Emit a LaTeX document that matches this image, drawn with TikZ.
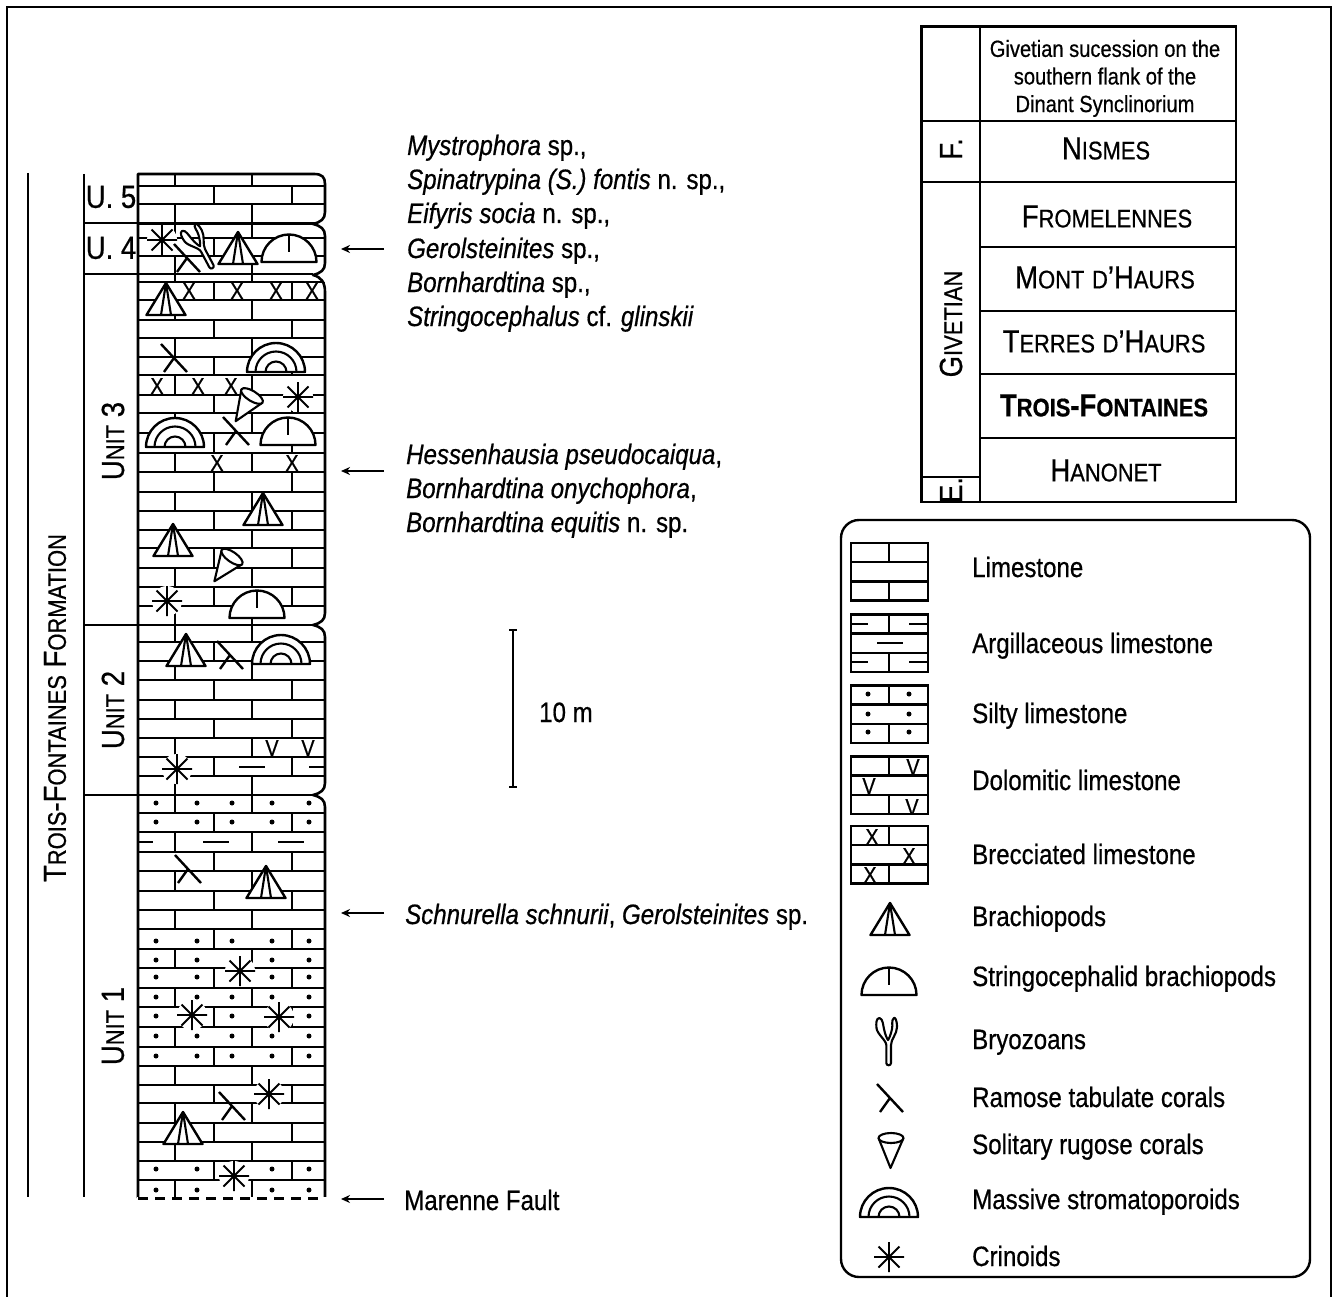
\documentclass[tikz,border=0pt]{standalone}
\usepackage{fontspec}
\setmainfont[FakeStretch=0.86,FakeBold=0.6]{Liberation Sans}
\usetikzlibrary{arrows.meta}
\newcommand{\fs}[1]{\fontsize{#1}{#1}\selectfont}
\newcommand{\smc}[1]{{\fontsize{25.5}{26}\selectfont #1}}
\tikzset{
  x=1pt,y=-1pt,
  line cap=round,
  frameline/.style={line width=2.1pt},
  brick/.style={line width=2.4pt,line cap=butt},
  sym/.style={line width=2.4pt,line join=round},
  symthin/.style={line width=2.1pt,line join=round},
  txt/.style={inner sep=0pt,anchor=base west,font=\fs{28}},
  capt/.style={inner sep=0pt,anchor=center,font=\fs{32}},
  rot/.style={inner sep=0pt,anchor=center,rotate=90,font=\fs{32}},
  mark letter/.style={inner sep=0pt,anchor=center,font=\fs{23}},
  pointer/.style={line width=2.4pt,-{Stealth[length=9pt,width=8pt]}},
  brachio/.pic={
    \draw[sym,fill=white] (0,0)--(-19.5,32)--(19.5,32)--cycle;
    \draw[symthin] (0,0)--(-5,32) (0,0)--(5,32);
  },
  stringo/.pic={
    \draw[sym,fill=white] (-27.5,0) arc[start angle=180,end angle=360,radius=27.5] --cycle;
    \draw[symthin] (0,-27)--(0,-10);
  },
  bryo/.pic={
    \draw[symthin,fill=white] (-1.7,21) .. controls (-1.7,24) and (3,24) .. (3,21) -- (3,3)
      .. controls (3,-3) and (9,-8) .. (9,-15) .. controls (9,-22) and (7,-25) .. (6,-24)
      .. controls (3,-22) and (5,-17) .. (4,-13) .. controls (3,-8) and (1,-3) .. (0,-2)
      .. controls (-1,-3) and (-3,-8) .. (-4,-13) .. controls (-5,-17) and (-5,-23) .. (-8.5,-24)
      .. controls (-12,-24) and (-12,-18) .. (-11.5,-14) .. controls (-11,-8) and (-2,-2) .. (-1.7,3) -- cycle;
  },
  ramose/.pic={
    \draw[sym] (-13,-14)--(13,14) (0,0)--(-10,14);
  },
  solit/.pic={
    \draw[symthin,fill=white] (-12.5,0)--(-0.5,30)--(12.5,0);
    \draw[symthin,fill=white] (0,0) ellipse[x radius=12.5,y radius=5];
  },
  massive/.pic={
    \draw[sym,fill=white] (-29,0) arc[start angle=180,end angle=360,radius=29] --cycle;
    \draw[symthin] (-20.5,0) arc[start angle=180,end angle=360,radius=20.5];
    \draw[symthin] (-10.5,0) arc[start angle=180,end angle=360,radius=10.5];
  },
  crinoid/.pic={
    \fill[white] (0,0) circle[radius=15];
    \draw[line width=1.9pt] (-15,0)--(15,0) (0,-15)--(0,15) (-10.5,-10.5)--(10.5,10.5) (-10.5,10.5)--(10.5,-10.5);
    \fill (0,0) circle[radius=2.6];
  },
  legbox/.pic={
    \draw[brick] (0,0) rectangle (77,57.5);
    \draw[brick] (0,19)--(77,19) (0,38.5)--(77,38.5) (38,0)--(38,19) (38,38.5)--(38,57.5);
  }
}
\begin{document}
\begin{tikzpicture}
\useasboundingbox (0,0) rectangle (1332,1297);
\fill[white] (0,0) rectangle (1332,1297);
% frame
\draw[frameline,line cap=butt] (7,1297)--(7,7)--(1331,7)--(1331,1297);

% ---- stratigraphic column: bricks
\foreach \yy in {186,204,223,238,256,282,300,320,338,357,375,395,413,433,453,472,492,511,530,548,568,587,606,642,661,680,700,719,738,757,776,813,832,852,871,891,910,929,949,968,988,1007,1027,1047,1066,1085,1103,1123,1142,1161,1180}
  \draw[brick] (138,\yy)--(325,\yy);
\foreach \ta/\tb in {174/186,204/223,223/238,256/282,300/320,338/357,375/395,413/433,453/472,492/511,530/548,568/587,606/625,625/642,661/680,700/719,738/757,776/795,795/813,832/852,871/891,910/929,949/968,988/1007,1027/1047,1066/1085,1103/1123,1142/1161,1180/1198}
  \draw[brick] (175,\ta)--(175,\tb) (252,\ta)--(252,\tb);
\foreach \ta/\tb in {186/204,238/256,282/300,320/338,357/375,395/413,433/453,472/492,511/530,548/568,587/606,642/661,680/700,719/738,757/776,813/832,852/871,891/910,929/949,968/988,1007/1027,1047/1066,1085/1103,1123/1142,1161/1180}
  \draw[brick] (214,\ta)--(214,\tb) (292,\ta)--(292,\tb);

% silty dots
\foreach \yy in {803,822,941,997,1036,1056}
  \foreach \xx in {156,197,232,272,309}
    \fill (\xx,\yy) circle[radius=2.5];
\foreach \xx in {156,197,272,309} {
  \fill (\xx,960) circle[radius=2.5];
  \fill (\xx,977) circle[radius=2.5];
  \fill (\xx,1169) circle[radius=2.5];
  \fill (\xx,1190) circle[radius=2.5];
}
\foreach \xx in {156,232,309} \fill (\xx,1016) circle[radius=2.5];
% argillaceous dashes
\foreach \xa/\xb/\yy in {138/153/842,203/229/842,278/304/842,239/265/767,309/324/767}
  \draw[brick] (\xa,\yy)--(\xb,\yy);

% notches and outline
\foreach \yy in {224,275,625,795}
  \fill[white] (327,\yy-12) .. controls (326,\yy-6) and (320,\yy-2) .. (313,\yy)
     .. controls (320,\yy+2) and (326,\yy+6) .. (327,\yy+12) -- cycle;
\draw[line width=2.6pt,line join=round] (138,1198)--(138,174)--(314,174)
  .. controls (322,174) and (325,177) .. (325,184) -- (325,212)
  .. controls (325,219) and (321,222) .. (313,224) .. controls (321,226) and (325,229) .. (325,236)
  -- (325,263) .. controls (325,270) and (321,273) .. (313,275) .. controls (321,277) and (325,282) .. (325,292)
  -- (325,613) .. controls (325,620) and (321,623) .. (313,625) .. controls (321,627) and (325,630) .. (325,637)
  -- (325,783) .. controls (325,790) and (321,793) .. (313,795) .. controls (321,797) and (325,800) .. (325,807)
  -- (325,1198);
\fill[white] (137,1196.5) rectangle (327,1200);
\draw[line width=3pt,dash pattern=on 10pt off 7pt,line cap=butt] (138,1198)--(325,1198);

% unit column
\draw[frameline] (28,173)--(28,1197);
\draw[frameline] (84,174)--(84,1197);
\draw[brick] (84,223)--(138,223);
\draw[brick] (84,274)--(313,274);
\draw[brick] (84,625)--(313,625);
\draw[brick] (84,795)--(313,795);
\draw[brick] (138,224)--(313,224);
\node[capt] (u5) at (111,197) {U. 5};
\node[capt] (u4) at (111,248) {U. 4};
\node[rot] (unit3) at (113,441) {U\smc{NIT} 3};
\node[rot] (unit2) at (113,710) {U\smc{NIT} 2};
\node[rot] (unit1) at (113,1026) {U\smc{NIT} 1};
\node[rot] (formation) at (55,708) {T\smc{ROIS}-F\smc{ONTAINES} F\smc{ORMATION}};

% X and V marks in the column
\foreach \n/\xx/\yy in {a/189/291,b/237/291,c/276/291,d/312/291,e/157/386,f/198/386,g/231/386,h/217/463,i/292/463}
  \node[mark letter] (x\n) at (\xx,\yy) {X};
\node[mark letter] (va) at (272,748) {V};
\node[mark letter] (vb) at (308,748) {V};

% fossils in the column
\pic at (162,240) {crinoid};
\pic at (187,258) {ramose};
\pic[rotate=28] at (201,248) {bryo};
\pic at (238,232) {brachio};
\pic at (289,262) {stringo};
\pic at (166,283) {brachio};
\pic at (174,358) {ramose};
\pic at (276,372) {massive};
\pic at (298,397) {crinoid};
\pic[rotate=-32] at (252,396) {solit};
\pic at (175,447) {massive};
\pic at (236,431) {ramose};
\pic at (288,445) {stringo};
\pic at (263,493) {brachio};
\pic at (173,524) {brachio};
\pic[rotate=-35] at (232,557) {solit};
\pic at (167,601) {crinoid};
\pic at (257,618) {stringo};
\pic at (186,634) {brachio};
\pic at (230,655) {ramose};
\pic at (281,664) {massive};
\pic at (177,769) {crinoid};
\pic at (188,869) {ramose};
\pic at (266,866) {brachio};
\pic at (240,971) {crinoid};
\pic at (192,1015) {crinoid};
\pic at (279,1017) {crinoid};
\pic at (269,1094) {crinoid};
\pic at (232,1106) {ramose};
\pic at (183,1112) {brachio};
\pic at (234,1176) {crinoid};

% pointers
\foreach \n/\yy in {a/249,b/471,c/913,d/1199} {
  \coordinate (p\n) at (384,\yy);
  \coordinate (q\n) at (341,\yy);
  \draw[pointer] (p\n)--(q\n);
}

% fossil lists
\node[txt] (t1) at (407,155) {\textit{Mystrophora} sp.,};
\node[txt] (t2) at (407,189) {\textit{Spinatrypina (S.) fontis} n. sp.,};
\node[txt] (t3) at (407,223) {\textit{Eifyris socia} n. sp.,};
\node[txt] (t4) at (407,258) {\textit{Gerolsteinites} sp.,};
\node[txt] (t5) at (407,292) {\textit{Bornhardtina} sp.,};
\node[txt] (t6) at (407,326) {\textit{Stringocephalus} cf. \textit{glinskii}};
\node[txt] (t7) at (406,464) {\textit{Hessenhausia pseudocaiqua},};
\node[txt] (t8) at (406,498) {\textit{Bornhardtina onychophora},};
\node[txt] (t9) at (406,532) {\textit{Bornhardtina equitis} n. sp.};
\node[txt] (t10) at (405,924) {\textit{Schnurella schnurii}, \textit{Gerolsteinites} sp.};
\node[txt] (t11) at (404,1210) {Marenne Fault};

% scale bar
\coordinate (sa) at (513,630);
\coordinate (sb) at (513,787);
\draw[line width=2.8pt,line cap=butt] (sa)--(sb);
\draw[line width=2.4pt,line cap=butt] ([xshift=-4pt]sa)--([xshift=4pt]sa) ([xshift=-4pt]sb)--([xshift=4pt]sb);
\node[txt] (scale) at (539,722) {10 m};

% stratigraphic table
\draw[brick] (921.5,26.5) rectangle (1236,502);
\draw[brick] (980,26.5)--(980,502);
\foreach \yy in {121,182,247,311,374,438} \draw[brick] (980,\yy)--(1236,\yy);
\draw[brick] (921.5,121)--(980,121) (921.5,182)--(980,182) (921.5,477)--(980,477);
\node[inner sep=0pt,align=center] (head) at (1105,79.5) {%
  \fs{23.4}\begin{tabular}{@{}c@{}}Givetian sucession on the\\[3.6pt]southern flank of the\\[3.6pt]Dinant Synclinorium\end{tabular}};
\node[capt] (n1) at (1106,148.5) {N\smc{ISMES}};
\node[capt] (n2) at (1107,216.5) {F\smc{ROMELENNES}};
\node[capt] (n3) at (1105,277.5) {M\smc{ONT} \smc{D}\symbol{39}H\smc{AURS}};
\node[capt] (n4) at (1104,341.5) {T\smc{ERRES} \smc{D}\symbol{39}H\smc{AURS}};
\node[capt] (n5) at (1104,405.5) {\bfseries T\smc{ROIS}-F\smc{ONTAINES}};
\node[capt] (n6) at (1106,470.5) {H\smc{ANONET}};
\node[rot] (giv) at (951,324) {G\smc{IVETIAN}};
\node[rot,anchor=center] (ff) at (951,149) {F.};
\begin{scope}
  \clip (922,478.5) rectangle (980,501);
  \node[rot,anchor=center] (ee) at (951,490) {E.};
\end{scope}

% legend
\draw[brick,rounded corners=18pt] (841,520) rectangle (1310,1277);
\pic at (851,543) {legbox};
\pic at (851,614.5) {legbox};
\pic at (851,685.5) {legbox};
\pic at (851,756.5) {legbox};
\pic at (851,826) {legbox};
\foreach \xa/\xb/\yy in {851/868/624,909/928/624,877/903/643,851/868/662,909/928/662}
  \draw[brick] (\xa,\yy)--(\xb,\yy);
\foreach \xx in {868,909} \foreach \yy in {694,714,732} \fill (\xx,\yy) circle[radius=2.5];
\node[mark letter] (lva) at (913,767) {V};
\node[mark letter] (lvb) at (869,786) {V};
\node[mark letter] (lvc) at (912,807) {V};
\node[mark letter] (lxa) at (872,837) {X};
\node[mark letter] (lxb) at (909,856) {X};
\node[mark letter] (lxc) at (870,875) {X};
\pic at (890,903) {brachio};
\pic at (889,995) {stringo};
\pic at (888,1042) {bryo};
\pic at (890,1098) {ramose};
\pic at (891,1138) {solit};
\pic at (889,1217) {massive};
\pic at (889,1257) {crinoid};
\node[txt] (l1) at (972,577) {Limestone};
\node[txt] (l2) at (972,653) {Argillaceous limestone};
\node[txt] (l3) at (972,723) {Silty limestone};
\node[txt] (l4) at (972,790) {Dolomitic limestone};
\node[txt] (l5) at (972,864) {Brecciated limestone};
\node[txt] (l6) at (972,926) {Brachiopods};
\node[txt] (l7) at (972,986) {Stringocephalid brachiopods};
\node[txt] (l8) at (972,1049) {Bryozoans};
\node[txt] (l9) at (972,1107) {Ramose tabulate corals};
\node[txt] (l10) at (972,1154) {Solitary rugose corals};
\node[txt] (l11) at (972,1209) {Massive stromatoporoids};
\node[txt] (l12) at (972,1266) {Crinoids};
\end{tikzpicture}
\end{document}
